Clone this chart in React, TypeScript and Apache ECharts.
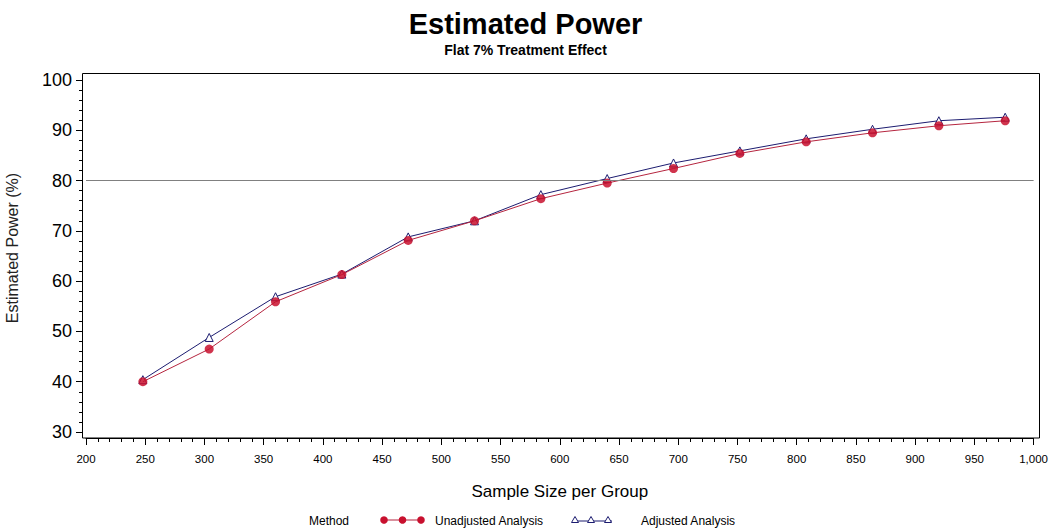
import React, { useEffect, useRef } from "react";
import * as echarts from "echarts";

const sampleSizes = [248, 304, 360, 416, 472, 528, 584, 640, 696, 752, 808, 864, 920, 976];
const unadjustedPower = [40.0, 46.5, 55.9, 61.3, 68.1, 72.0, 76.4, 79.5, 82.4, 85.4, 87.7, 89.5, 90.9, 91.9];
const adjustedPower = [40.4, 48.8, 56.9, 61.4, 68.8, 72.0, 77.2, 80.4, 83.5, 85.9, 88.3, 90.2, 91.9, 92.6];
const targetPower = 80;
const xTitle = "Sample Size per Group";
const yTitle = "Estimated Power (%)";
const seriesNames = ["Unadjusted Analysis", "Adjusted Analysis"];

const FONT = "'Liberation Sans', Arial, Helvetica, sans-serif";
const RED = "#c8102e";
const RED_LINE = "#b5253f";
const NAVY = "#1c1c70";

export default function App() {
  const ref = useRef<HTMLDivElement>(null);
  useEffect(() => {
    if (!ref.current) return;
    const chart = echarts.init(ref.current, undefined, { renderer: "svg" });
    const unadj = sampleSizes.map((x, i) => [x, unadjustedPower[i]]);
    const adj = sampleSizes.map((x, i) => [x, adjustedPower[i]]);
    chart.setOption({
      animation: false,
      backgroundColor: "#ffffff",
      textStyle: { fontFamily: FONT },
      title: [
        {
          text: "Estimated Power",
          left: "center",
          top: 4,
          textStyle: { fontFamily: FONT, fontSize: 29, fontWeight: "bold", color: "#000" },
        },
        {
          text: "Flat 7% Treatment Effect",
          left: "center",
          top: 38,
          textStyle: { fontFamily: FONT, fontSize: 14, fontWeight: "bold", color: "#000" },
        },
      ],
      grid: { left: 86, right: 15, top: 80, bottom: 100, containLabel: false },
      xAxis: {
        type: "value",
        min: 200,
        max: 1000,
        interval: 50,
        offset: 6,
        name: xTitle,
        nameLocation: "middle",
        nameGap: 45,
        nameTextStyle: { fontFamily: FONT, fontSize: 17, color: "#000" },
        axisLine: { show: true, lineStyle: { color: "#000", width: 1 } },
        axisTick: { show: true, length: 7, lineStyle: { color: "#000" } },
        minorTick: { show: true, splitNumber: 5, length: 4, lineStyle: { color: "#000" } },
        splitLine: { show: false },
        axisLabel: {
          fontFamily: FONT,
          fontSize: 11.5,
          color: "#000",
          margin: 15,
          formatter: (v: number) => (v >= 1000 ? v.toLocaleString("en-US") : String(v)),
        },
      },
      yAxis: {
        type: "value",
        min: 30,
        max: 100,
        interval: 10,
        offset: 4,
        axisLine: { show: true, lineStyle: { color: "#000", width: 1 } },
        axisTick: { show: true, length: 6, lineStyle: { color: "#000" } },
        minorTick: { show: true, splitNumber: 5, length: 3, lineStyle: { color: "#000" } },
        splitLine: { show: false },
        axisLabel: { fontFamily: FONT, fontSize: 18, color: "#000", margin: 10 },
      },
      graphic: [
        {
          type: "rect",
          z: 0,
          silent: true,
          shape: { x: 82.5, y: 73.5, width: 957, height: 364.5 },
          style: { fill: "none", stroke: "#000", lineWidth: 1 },
        },
        {
          type: "text",
          x: 12,
          y: 248,
          rotation: Math.PI / 2,
          style: {
            text: yTitle,
            fontFamily: FONT,
            fontSize: 16,
            fill: "#222",
            align: "center",
            verticalAlign: "middle",
          },
        },
        {
          type: "group",
          children: [
            {
              type: "text",
              x: 309,
              y: 521,
              style: { text: "Method", fontFamily: FONT, fontSize: 12, fill: "#000", verticalAlign: "middle" },
            },
            { type: "line", shape: { x1: 383, y1: 520, x2: 422, y2: 520 }, style: { stroke: RED_LINE, lineWidth: 1 } },
            { type: "circle", shape: { cx: 384, cy: 520, r: 3.8 }, style: { fill: RED } },
            { type: "circle", shape: { cx: 402.5, cy: 520, r: 3.8 }, style: { fill: RED } },
            { type: "circle", shape: { cx: 421, cy: 520, r: 3.8 }, style: { fill: RED } },
            {
              type: "text",
              x: 435,
              y: 521,
              style: { text: seriesNames[0], fontFamily: FONT, fontSize: 12, fill: "#000", verticalAlign: "middle" },
            },
            { type: "line", shape: { x1: 573, y1: 521, x2: 612, y2: 521 }, style: { stroke: NAVY, lineWidth: 1 } },
            { type: "polygon", shape: { points: [[575, 516.5], [571.5, 522.5], [578.5, 522.5]] }, style: { fill: "#fff", stroke: NAVY, lineWidth: 1 } },
            { type: "polygon", shape: { points: [[591, 516.5], [587.5, 522.5], [594.5, 522.5]] }, style: { fill: "#fff", stroke: NAVY, lineWidth: 1 } },
            { type: "polygon", shape: { points: [[608, 516.5], [604.5, 522.5], [611.5, 522.5]] }, style: { fill: "#fff", stroke: NAVY, lineWidth: 1 } },
            {
              type: "text",
              x: 641,
              y: 521,
              style: { text: seriesNames[1], fontFamily: FONT, fontSize: 12, fill: "#000", verticalAlign: "middle" },
            },
          ],
        },
      ],
      series: [
        {
          name: seriesNames[1],
          type: "line",
          data: adj,
          z: 3,
          symbol: "triangle",
          symbolSize: 8,
          lineStyle: { color: NAVY, width: 1 },
          itemStyle: { color: "#ffffff", borderColor: NAVY, borderWidth: 1 },
          markLine: {
            silent: true,
            symbol: "none",
            label: { show: false },
            lineStyle: { color: "#808080", width: 1, type: "solid" },
            data: [{ yAxis: targetPower }],
          },
        },
        {
          name: seriesNames[0],
          type: "line",
          data: unadj,
          z: 4,
          symbol: "circle",
          symbolSize: 9,
          lineStyle: { color: RED_LINE, width: 1 },
          itemStyle: { color: RED, opacity: 0.85 },
        },
      ],
    });
    return () => chart.dispose();
  }, []);
  return (
    <div
      ref={ref}
      style={{ position: "fixed", left: 0, top: 0, width: 1051, height: 532, background: "#fff" }}
    />
  );
}
